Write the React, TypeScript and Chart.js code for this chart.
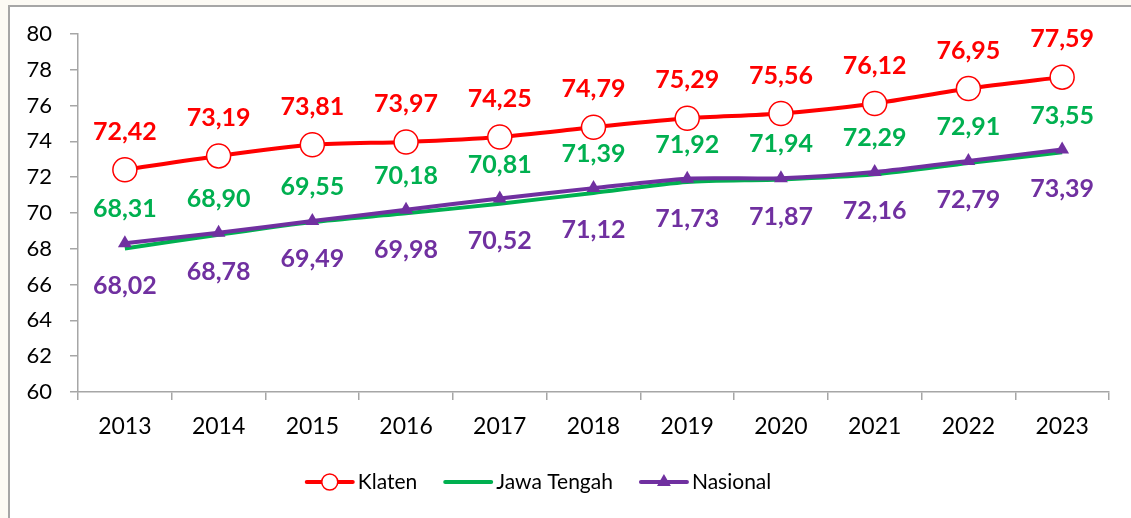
import React, { useEffect, useRef } from 'react';
import { Chart, registerables } from 'chart.js';

Chart.register(...registerables);

const years = ['2013', '2014', '2015', '2016', '2017', '2018', '2019', '2020', '2021', '2022', '2023'];
const klaten = [72.42, 73.19, 73.81, 73.97, 74.25, 74.79, 75.29, 75.56, 76.12, 76.95, 77.59];
const jawaTengah = [68.02, 68.78, 69.49, 69.98, 70.52, 71.12, 71.73, 71.87, 72.16, 72.79, 73.39];
const nasional = [68.31, 68.9, 69.55, 70.18, 70.81, 71.39, 71.92, 71.94, 72.29, 72.91, 73.55];
const yMin = 60;
const yMax = 80;
const yStep = 2;

const RED = '#ff0000';
const GREEN = '#00b050';
const PURPLE = '#7030a0';
const AXIS = '#a6a6a6';
const FONT = 'Lato, "Open Sans", sans-serif';

const fmt = (v: number) => v.toFixed(2).replace('.', ',');

// label specs as they appear in the reference: dataset index, text colour, vertical offset
const labelSpecs = [
  { ds: 0, color: RED, dy: -38 },
  { ds: 2, color: GREEN, dy: -34 },
  { ds: 1, color: PURPLE, dy: 37 },
];

const dataLabelsPlugin = {
  id: 'dataLabels',
  afterDatasetsDraw(chart: any) {
    const ctx = chart.ctx;
    ctx.save();
    ctx.font = `bold 25px ${FONT}`;
    ctx.textAlign = 'center';
    ctx.textBaseline = 'middle';
    labelSpecs.forEach((s) => {
      const meta = chart.getDatasetMeta(s.ds);
      const data = chart.data.datasets[s.ds].data as number[];
      ctx.fillStyle = s.color;
      meta.data.forEach((el: any, i: number) => {
        ctx.fillText(fmt(data[i]), el.x, el.y + s.dy);
      });
    });
    ctx.restore();
  },
};

const legendPlugin = {
  id: 'customLegend',
  afterDraw(chart: any) {
    const ctx = chart.ctx;
    ctx.save();
    ctx.font = `21px ${FONT}`;
    ctx.textBaseline = 'middle';
    ctx.textAlign = 'left';
    const y = 482;
    const lineLen = 46;
    const gapText = 5;
    const gapItem = 28;
    const items = chart.data.datasets.map((d: any, i: number) => ({ ds: d, idx: i }));
    const widths = items.map((it: any) => lineLen + gapText + ctx.measureText(it.ds.label).width);
    const total = widths.reduce((a: number, b: number) => a + b, 0) + gapItem * (items.length - 1);
    let x = 539 - total / 2;
    items.forEach((it: any, k: number) => {
      const d = it.ds;
      ctx.strokeStyle = d.borderColor;
      ctx.lineWidth = 4;
      ctx.lineCap = 'round';
      ctx.beginPath();
      ctx.moveTo(x, y);
      ctx.lineTo(x + lineLen, y);
      ctx.stroke();
      const cx = x + lineLen / 2;
      if (d.pointStyle === 'circle' && d.pointRadius > 0) {
        ctx.beginPath();
        ctx.arc(cx, y, 8, 0, Math.PI * 2);
        ctx.fillStyle = '#ffffff';
        ctx.fill();
        ctx.lineWidth = 1.5;
        ctx.strokeStyle = d.borderColor;
        ctx.stroke();
      } else if (d.pointStyle === 'triangle') {
        const r = 8;
        ctx.beginPath();
        ctx.moveTo(cx, y - r);
        ctx.lineTo(cx + r * Math.sin((2 * Math.PI) / 3), y - r * Math.cos((2 * Math.PI) / 3));
        ctx.lineTo(cx + r * Math.sin((4 * Math.PI) / 3), y - r * Math.cos((4 * Math.PI) / 3));
        ctx.closePath();
        ctx.fillStyle = d.borderColor;
        ctx.fill();
      }
      ctx.fillStyle = '#000000';
      ctx.fillText(d.label, x + lineLen + gapText, y);
      x += widths[k] + gapItem;
    });
    ctx.restore();
  },
};

export default function App() {
  const ref = useRef<HTMLCanvasElement | null>(null);

  useEffect(() => {
    document.body.style.margin = '0';
    if (!ref.current) return;
    const chart = new Chart(ref.current, {
      type: 'line',
      data: {
        labels: years,
        datasets: [
          {
            label: 'Klaten',
            data: klaten,
            borderColor: RED,
            backgroundColor: '#ffffff',
            borderWidth: 4,
            pointStyle: 'circle',
            pointRadius: 12,
            pointBorderWidth: 1.5,
            pointBorderColor: RED,
            pointBackgroundColor: '#ffffff',
            tension: 0.25,
            order: 0,
          },
          {
            label: 'Jawa Tengah',
            data: jawaTengah,
            borderColor: GREEN,
            backgroundColor: GREEN,
            borderWidth: 4,
            pointStyle: 'line',
            pointRadius: 0,
            tension: 0.25,
            order: 2,
          },
          {
            label: 'Nasional',
            data: nasional,
            borderColor: PURPLE,
            backgroundColor: PURPLE,
            borderWidth: 4,
            pointStyle: 'triangle',
            pointRadius: 8,
            pointBorderWidth: 0,
            pointBackgroundColor: PURPLE,
            tension: 0.25,
            order: 1,
          },
        ],
      },
      options: {
        responsive: false,
        animation: false,
        devicePixelRatio: 1,
        layout: { padding: { left: 0, right: 22, top: 34, bottom: 0 } },
        plugins: {
          legend: { display: false },
          tooltip: { enabled: false },
        },
        scales: {
          x: {
            type: 'category',
            offset: true,
            grid: {
              offset: true,
              drawOnChartArea: false,
              drawTicks: true,
              tickLength: 8,
              color: AXIS,
              lineWidth: 1.5,
            },
            border: { display: true, color: AXIS, width: 1.5 },
            ticks: {
              color: '#000000',
              font: { family: FONT, size: 23 },
              padding: 13,
              maxRotation: 0,
            },
            afterFit(scale: any) {
              scale.height = 126;
            },
          },
          y: {
            min: yMin,
            max: yMax,
            grid: {
              drawOnChartArea: false,
              drawTicks: true,
              tickLength: 8,
              color: AXIS,
              lineWidth: 1.5,
            },
            border: { display: true, color: AXIS, width: 1.5 },
            ticks: {
              stepSize: yStep,
              color: '#000000',
              font: { family: FONT, size: 22 },
              padding: 18,
            },
            afterFit(scale: any) {
              scale.width = 78;
            },
          },
        },
      },
      plugins: [dataLabelsPlugin, legendPlugin],
    } as any);
    return () => chart.destroy();
  }, []);

  return (
    <div style={{ position: 'relative', width: 1131, height: 518, overflow: 'hidden', background: '#fcfaf4' }}>
      <div
        style={{
          position: 'absolute',
          left: 8,
          top: 5,
          width: 1200,
          height: 600,
          borderLeft: `2px solid ${AXIS}`,
          borderTop: `2px solid ${AXIS}`,
          background: '#ffffff',
        }}
      />
      <canvas ref={ref} width={1131} height={518} style={{ position: 'absolute', left: 0, top: 0, width: 1131, height: 518 }} />
    </div>
  );
}
